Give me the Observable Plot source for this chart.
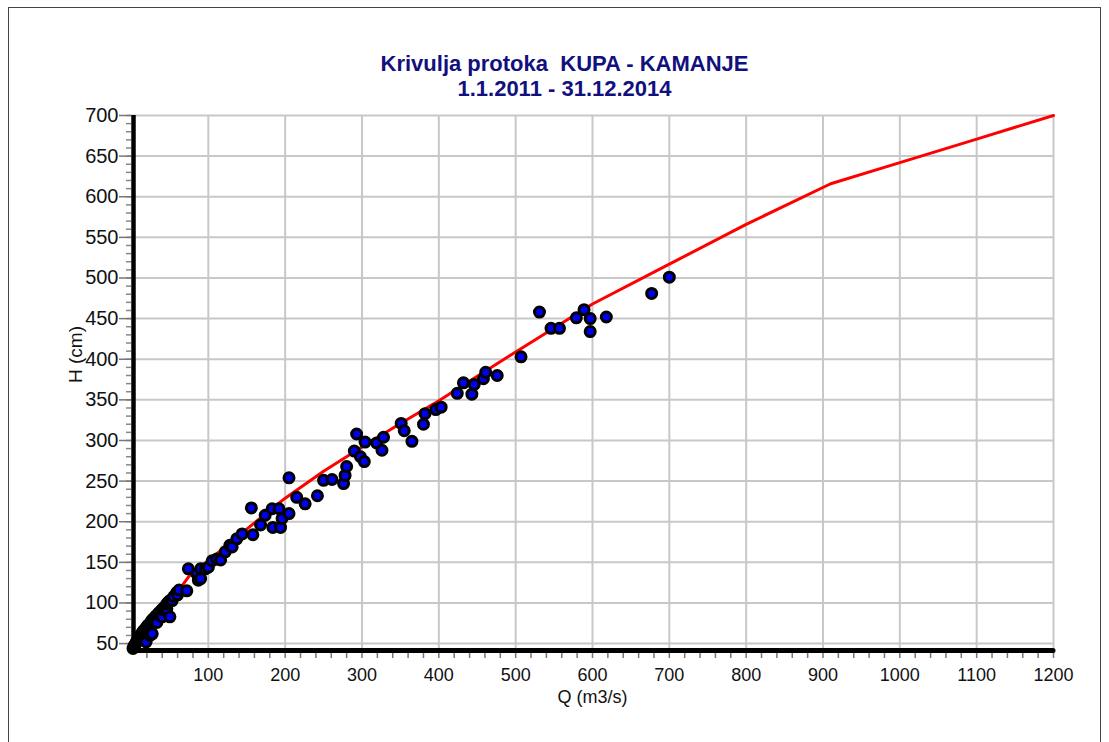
<!DOCTYPE html>
<html><head><meta charset="utf-8">
<script src="https://cdn.jsdelivr.net/npm/d3@7"></script>
<script src="https://cdn.jsdelivr.net/npm/@observablehq/plot@0.6"></script>
<style>
body{margin:0;background:#fff;overflow:hidden;width:1109px;height:742px;position:relative;}
#frame{position:absolute;left:8px;top:7px;width:1093px;height:800px;border:1.5px solid #444;box-sizing:border-box;}
#chart{position:absolute;left:0;top:0;}
</style></head><body><div id="frame"></div><div id="chart"></div>
<script>
// Rating curve (Q in m3/s, H in cm)
const curveQ = [0, 10, 25, 50, 75, 100, 150, 200, 250, 300, 350, 400, 450, 500, 600, 700, 800, 910, 1000, 1100, 1200];
const curveH = [42, 53, 70, 101, 133, 152, 191, 229, 262, 292, 321, 349, 379, 409, 468, 517, 566, 616, 642, 671, 700];

// Measurements
const measQ = [2,3,4,5,6,7,8,9,10,11,12,13,14,15,16,18,19,20,22,24,24,26,27,28,30,32,33,34,36,38,40,40,42,44,46,46,48,50,50,53,55,59,60,62,72,74,85,87,90,90,96,100,105,111,116,122,128,131,137,144,156,158,168,174,183,184,192,194,196,205,205,215,226,242,250,261,276,278,280,290,293,298,303,304,319,326,328,351,355,365,380,382,396,403,424,432,443,446,458,461,476,507,531,546,557,579,589,597,597,618,677,700];
const measH = [44,46,48,49,51,53,54,56,57,59,60,62,63,65,66,68,52,71,73,60,75,78,62,80,82,84,76,86,88,90,83,92,94,96,93,99,101,83,103,103,108,113,110,116,115,142,136,128,130,142,142,144,152,154,153,163,171,169,179,185,217,184,196,208,216,193,216,193,204,210,254,230,222,232,251,252,247,257,268,287,308,280,274,298,297,288,304,321,312,299,320,333,338,341,358,371,357,369,376,384,380,403,458,438,438,451,461,450,434,452,481,501];

const xMajor = [100,200,300,400,500,600,700,800,900,1000,1100,1200];
const xMinor = d3.range(20, 1201, 20);
const yMajor = [50,100,150,200,250,300,350,400,450,500,550,600,650,700];
const yMinor = d3.range(50, 701, 10);
const titleLines = ["Krivulja protoka  KUPA - KAMANJE", "1.1.2011 - 31.12.2014"];
const xLabel = "Q (m3/s)";
const yLabel = "H (cm)";

const curve = curveQ.map((q, i) => ({q, h: curveH[i]}));
const meas = measQ.map((q, i) => ({q, h: measH[i]}));
const yMin = 41.5;

const plot = Plot.plot({
  width: 1109, height: 742,
  marginLeft: 131, marginRight: 56, marginTop: 115, marginBottom: 92,
  style: {fontFamily: "'Liberation Sans', Arial, sans-serif", background: "transparent", color: "#111", overflow: "visible"},
  x: {domain: [0, 1200]},
  y: {domain: [yMin, 700]},
  marks: [
    Plot.gridX({ticks: xMajor, stroke: "#c8c8c8", strokeOpacity: 1, strokeWidth: 2}),
    Plot.gridY({ticks: yMajor, stroke: "#c8c8c8", strokeOpacity: 1, strokeWidth: 2}),
    Plot.axisX({ticks: xMinor, tickSize: 8, stroke: "#777", strokeWidth: 1.5, text: null, label: null}),
    Plot.axisX({ticks: xMajor, tickSize: 0, tickPadding: 18, fontSize: 18, label: null, fill: "#111", tickFormat: d => String(d)}),
    Plot.axisY({ticks: yMinor, tickSize: 5, stroke: "#888", strokeWidth: 1.5, text: null, label: null}),
    Plot.axisY({ticks: yMajor, tickSize: 12, stroke: "#777", strokeWidth: 1.5, tickPadding: 1, fontSize: 20, label: null, fill: "#111", tickFormat: d => String(d)}),
    Plot.ruleX([0], {y1: yMin, y2: 700, stroke: "#000", strokeWidth: 4.5, dx: 2}),
    Plot.ruleY([yMin], {x1: 0, x2: 1200, stroke: "#000", strokeWidth: 5, strokeLinecap: "round"}),
    Plot.line(curve, {x: "q", y: "h", stroke: "#ff0000", strokeWidth: 3}),
    Plot.dot(meas, {x: "q", y: "h", r: 5, fill: "#0000f0", stroke: "#000", strokeWidth: 3}),
    Plot.text([titleLines[0]], {frameAnchor: "top", dy: -52, dx: -28, fontSize: 22, fontWeight: "bold", fill: "#10107e", lineAnchor: "middle"}),
    Plot.text([titleLines[1]], {frameAnchor: "top", dy: -27, dx: -28, fontSize: 22, fontWeight: "bold", fill: "#10107e", lineAnchor: "middle"}),
    Plot.text([xLabel], {frameAnchor: "bottom", dy: 47, fontSize: 18, fill: "#111", lineAnchor: "middle"}),
    Plot.text([yLabel], {frameAnchor: "left", dx: -56, rotate: -90, fontSize: 19, fill: "#111", lineAnchor: "middle"})
  ]
});
document.getElementById("chart").appendChild(plot);
</script></body></html>
